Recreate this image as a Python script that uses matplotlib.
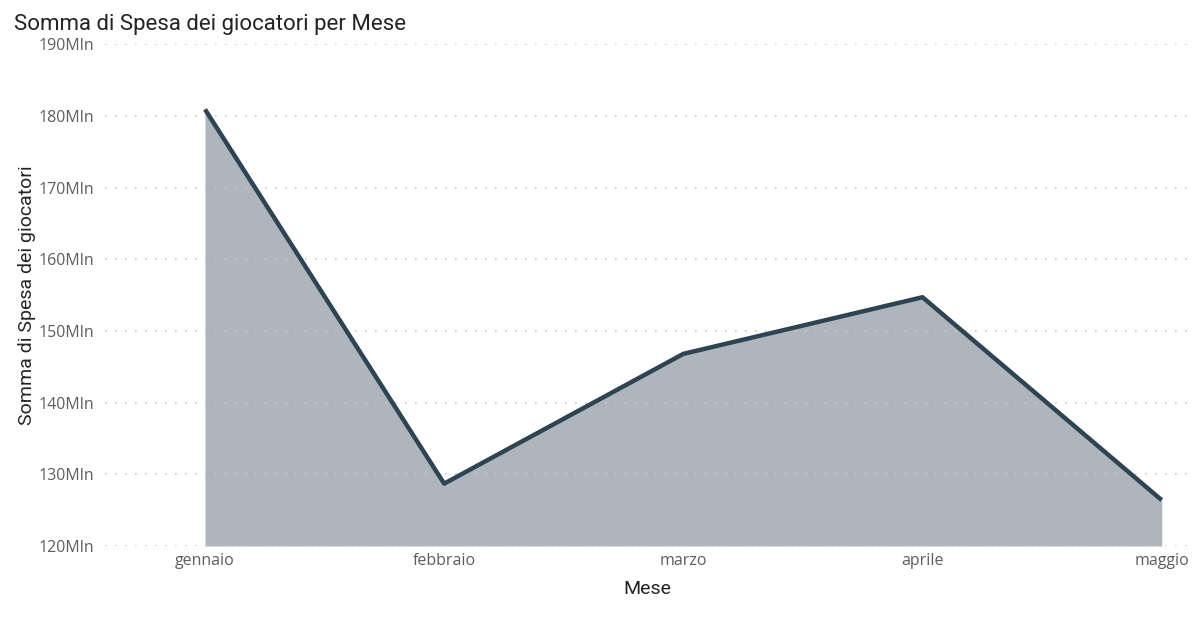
import matplotlib
matplotlib.use("Agg")
import matplotlib.pyplot as plt

# data (millions)
mesi = ['gennaio', 'febbraio', 'marzo', 'aprile', 'maggio']
spesa = [180.9, 128.7, 146.8, 154.7, 126.4]
y_ticks = [120, 130, 140, 150, 160, 170, 180, 190]
y_labels = [f"{v}Mln" for v in y_ticks]

LINE = '#2E4453'
FILL = '#AEB5BC'

fig = plt.figure(figsize=(12, 6.3), dpi=100)
ax = fig.add_axes([0.0875, 0.1333, 0.9045, 0.7967])

x = list(range(len(mesi)))
ax.fill_between(x, spesa, 120, color=FILL, linewidth=0, zorder=1)
ax.plot(x, spesa, color=LINE, linewidth=3.2, solid_capstyle='butt', zorder=3)

ax.set_xlim(-0.418, 4.12)
ax.set_ylim(120, 190)
ax.set_yticks(y_ticks)
ax.set_yticklabels(y_labels)
ax.set_xticks(x)
ax.set_xticklabels(mesi)

for s in ax.spines.values():
    s.set_visible(False)
ax.tick_params(axis='both', length=0, labelsize=11.5, labelcolor='#605E5C')
ax.tick_params(axis='y', pad=8)
ax.tick_params(axis='x', pad=5)
for lab in ax.get_xticklabels() + ax.get_yticklabels():
    lab.set_family('Open Sans')

ax.grid(axis='y', color='#C8C8C8', linestyle=(0, (1, 5)), linewidth=1.2, zorder=2)
ax.set_axisbelow(False)

ax.set_xlabel('Mese', fontsize=14, color='#252423', family='Roboto', labelpad=8)
ax.set_ylabel('Somma di Spesa dei giocatori', fontsize=14, color='#252423',
              family='Roboto')
ax.yaxis.set_label_coords(-0.0636, 0.5)
fig.text(0.012, 0.978, 'Somma di Spesa dei giocatori per Mese', fontsize=16,
         color='#252423', family='Roboto', ha='left', va='top')

fig.savefig('out.png', dpi=100, facecolor='white')
